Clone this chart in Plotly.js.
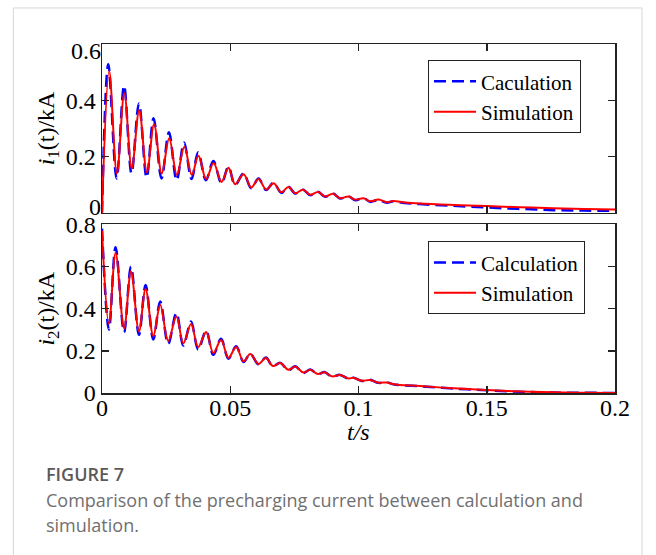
<!DOCTYPE html>
<html><head><meta charset="utf-8">
<script src="https://cdn.plot.ly/plotly-3.0.1.min.js"></script>
<style>html,body{margin:0;padding:0;background:#fff;overflow:hidden;} #chart{width:656px;height:555px;}</style>
</head><body><div id="chart"></div>
<script>
// ---- data (t in s, current in kA) ----
const t1Calc = [0, 0.00245, 0.0057, 0.0086, 0.0115, 0.0144, 0.0174, 0.0201, 0.0232, 0.0261, 0.0291, 0.032, 0.0349, 0.0375, 0.0405, 0.0434, 0.0466, 0.0493, 0.0519, 0.0552, 0.0582, 0.061, 0.064, 0.0669, 0.0699, 0.0727, 0.0753, 0.0783, 0.0812, 0.0842, 0.087, 0.09, 0.0928, 0.0961, 0.0987, 0.102, 0.1045, 0.1078, 0.111, 0.1136, 0.118, 0.124, 0.137, 0.15, 0.163, 0.176, 0.188, 0.2];
const i1Calc = [0, 0.528, 0.122, 0.452, 0.14, 0.389, 0.125, 0.336, 0.122, 0.286, 0.116, 0.25, 0.12, 0.215, 0.116, 0.184, 0.105, 0.164, 0.099, 0.14, 0.087, 0.122, 0.081, 0.107, 0.071, 0.093, 0.069, 0.083, 0.063, 0.075, 0.057, 0.069, 0.051, 0.059, 0.045, 0.053, 0.039, 0.046, 0.036, 0.041, 0.035, 0.031, 0.025, 0.019, 0.014, 0.0096, 0.008, 0.007];
const t1Sim = [0, 0.0028, 0.0058, 0.0087, 0.0116, 0.0145, 0.0175, 0.0203, 0.0233, 0.0262, 0.0292, 0.0321, 0.035, 0.0376, 0.0406, 0.0435, 0.0466, 0.0493, 0.0519, 0.0552, 0.0582, 0.061, 0.064, 0.0669, 0.0699, 0.0727, 0.0753, 0.0783, 0.0812, 0.0842, 0.087, 0.09, 0.0928, 0.0961, 0.0987, 0.102, 0.1045, 0.1078, 0.111, 0.1136, 0.118, 0.124, 0.137, 0.15, 0.163, 0.176, 0.188, 0.2];
const i1Sim = [0, 0.504, 0.14, 0.425, 0.158, 0.365, 0.144, 0.315, 0.14, 0.265, 0.135, 0.235, 0.135, 0.203, 0.12, 0.177, 0.11, 0.16, 0.102, 0.137, 0.09, 0.12, 0.083, 0.105, 0.073, 0.092, 0.07, 0.082, 0.064, 0.074, 0.058, 0.068, 0.052, 0.058, 0.047, 0.052, 0.041, 0.047, 0.038, 0.042, 0.037, 0.033, 0.028, 0.024, 0.02, 0.016, 0.014, 0.012];

const t2Calc = [0, 0.0027, 0.0053, 0.0086, 0.0113, 0.0144, 0.017, 0.02, 0.0227, 0.0258, 0.029, 0.0317, 0.0347, 0.0375, 0.0406, 0.0434, 0.0464, 0.0493, 0.0523, 0.0552, 0.0578, 0.061, 0.0639, 0.0666, 0.0695, 0.0727, 0.0753, 0.0785, 0.0812, 0.0842, 0.0867, 0.0896, 0.0928, 0.0961, 0.098, 0.1013, 0.1045, 0.1078, 0.111, 0.1136, 0.124, 0.137, 0.15, 0.163, 0.176, 0.188, 0.2];
const i2Calc = [0.78, 0.301, 0.692, 0.288, 0.6, 0.276, 0.513, 0.254, 0.434, 0.233, 0.38, 0.225, 0.339, 0.206, 0.296, 0.181, 0.257, 0.163, 0.222, 0.147, 0.187, 0.136, 0.168, 0.127, 0.143, 0.108, 0.127, 0.095, 0.111, 0.089, 0.1, 0.078, 0.086, 0.068, 0.073, 0.057, 0.063, 0.048, 0.051, 0.041, 0.032, 0.021, 0.013, 0.006, 0.002, 0.001, 0];
const t2Sim = t2Calc;
const i2Sim = [0.77, 0.328, 0.665, 0.307, 0.577, 0.293, 0.494, 0.27, 0.418, 0.247, 0.364, 0.236, 0.328, 0.218, 0.29, 0.19, 0.252, 0.167, 0.218, 0.15, 0.185, 0.138, 0.166, 0.128, 0.142, 0.11, 0.126, 0.097, 0.11, 0.09, 0.099, 0.079, 0.085, 0.069, 0.072, 0.058, 0.062, 0.049, 0.05, 0.042, 0.033, 0.022, 0.014, 0.007, 0.003, 0.001, 0];

const xTickVals = [0, 0.05, 0.1, 0.15, 0.2];
const xTickText = ['0', '0.05', '0.1', '0.15', '0.2'];
const y1TickVals = [0, 0.2, 0.4, 0.6];
const y1TickText = ['0', '0.2', '0.4', '0.6'];
const y2TickVals = [0, 0.2, 0.4, 0.6, 0.8];
const y2TickText = ['0', '0.2', '0.4', '0.6', '0.8'];
const legendTop = ['Caculation', 'Simulation'];
const legendBottom = ['Calculation', 'Simulation'];

// ---- styling ----
const SERIF = 'Liberation Serif';
const SANS = 'Open Sans';
const FS = 24;
const INK = '#000';
const blueLine = {color: '#0000ff', width: 2.5, dash: '12px,6px', shape: 'spline', smoothing: 1};
const redLine = {color: '#ff0000', width: 2, shape: 'spline', smoothing: 1};

const traces = [
  {x: t1Calc, y: i1Calc, xaxis: 'x', yaxis: 'y', mode: 'lines', line: blueLine, name: legendTop[0], legend: 'legend'},
  {x: t1Sim, y: i1Sim, xaxis: 'x', yaxis: 'y', mode: 'lines', line: redLine, name: legendTop[1], legend: 'legend'},
  {x: t2Calc, y: i2Calc, xaxis: 'x2', yaxis: 'y2', mode: 'lines', line: blueLine, name: legendBottom[0], legend: 'legend2'},
  {x: t2Sim, y: i2Sim, xaxis: 'x2', yaxis: 'y2', mode: 'lines', line: redLine, name: legendBottom[1], legend: 'legend2'},
  // carriers (nothing drawn) so the label-only overlay axes of the upper panel exist
  {x: t1Sim, y: i1Sim, xaxis: 'x', yaxis: 'y3', mode: 'none', showlegend: false, hoverinfo: 'skip'},
  {x: t1Sim, y: i1Sim, xaxis: 'x', yaxis: 'y4', mode: 'none', showlegend: false, hoverinfo: 'skip'}
];

const L = 101.7, R = 615, T = 44, B = 392.7;
const W = R - L, H = B - T;
const px = v => (v - L) / W;
const py = v => (B - v) / H;

function axis(extra) {
  return Object.assign({
    showline: true, linecolor: '#222', linewidth: 1.5, mirror: 'ticks',
    ticks: 'inside', ticklen: 7, tickwidth: 1.5, tickcolor: '#222',
    showgrid: false, zeroline: false, fixedrange: true,
    tickfont: {family: SERIF, size: FS, color: INK}
  }, extra);
}
function labelOnlyAxis(extra) {
  return Object.assign({
    overlaying: 'y', anchor: 'x', side: 'left', range: [0, 0.6],
    showline: false, ticks: '', showgrid: false, zeroline: false, fixedrange: true,
    tickfont: {family: SERIF, size: FS, color: INK}
  }, extra);
}
function legendBox(extra) {
  return Object.assign({
    xanchor: 'left', yanchor: 'top', bgcolor: '#fff', bordercolor: '#222', borderwidth: 1.2,
    font: {family: SERIF, size: 21, color: INK}, tracegroupgap: 0, itemwidth: 42
  }, extra);
}

const layout = {
  width: 656, height: 555,
  font: {family: SERIF, size: FS, color: INK},
  margin: {l: L, r: 656 - R, t: T, b: 555 - B, pad: 0},
  paper_bgcolor: '#fff', plot_bgcolor: '#fff',
  showlegend: true,
  xaxis: axis({domain: [0, 1], anchor: 'y', range: [0, 0.2], tickvals: xTickVals, ticktext: xTickText, showticklabels: false}),
  yaxis: axis({domain: [py(212.7), 1], anchor: 'x', range: [0, 0.6], tickvals: y1TickVals.slice(1, 3), ticktext: y1TickText.slice(1, 3),
    title: {text: '<i>i</i><sub>1</sub>(t)/kA', font: {family: SERIF, size: FS, color: INK}, standoff: 4}}),
  // end labels of the upper panel are nudged just inside the panel, as in the reference
  yaxis3: labelOnlyAxis({tickvals: [y1TickVals[0]], ticktext: [y1TickText[0]], ticklabelshift: -6}),
  yaxis4: labelOnlyAxis({tickvals: [y1TickVals[3]], ticktext: [y1TickText[3]], ticklabelshift: 7}),
  xaxis2: axis({domain: [0, 1], anchor: 'y2', range: [0, 0.2], tickvals: xTickVals, ticktext: xTickText, ticklabelstandoff: -7}),
  yaxis2: axis({domain: [0, py(224.3)], anchor: 'x2', range: [0, 0.8], tickvals: y2TickVals, ticktext: y2TickText,
    title: {text: '<i>i</i><sub>2</sub>(t)/kA', font: {family: SERIF, size: FS, color: INK}, standoff: 4}}),
  legend: legendBox({x: px(427.7), y: py(60)}),
  legend2: legendBox({x: px(427.7), y: py(241)}),
  shapes: [
    {type: 'line', xref: 'paper', yref: 'paper', x0: px(13), x1: px(13), y0: py(8), y1: py(560), line: {color: '#d6d6d6', width: 1}, layer: 'below'},
    {type: 'line', xref: 'paper', yref: 'paper', x0: px(642), x1: px(642), y0: py(8), y1: py(560), line: {color: '#d6d6d6', width: 1}, layer: 'below'},
    {type: 'line', xref: 'paper', yref: 'paper', x0: px(13), x1: px(642), y0: py(8), y1: py(8), line: {color: '#d6d6d6', width: 1}, layer: 'below'}
  ],
  annotations: [
    {text: '<i>t/s</i>', xref: 'paper', yref: 'paper', x: px(358), y: py(432), xanchor: 'center', yanchor: 'middle', showarrow: false,
      font: {family: SERIF, size: FS, color: INK}},
    {text: 'FIGURE 7', xref: 'paper', yref: 'paper', x: px(44), y: py(474), xanchor: 'left', yanchor: 'middle', showarrow: false,
      font: {family: SANS, size: 18, color: '#5a5a5a', weight: 600}},
    {text: 'Comparison of the precharging current between calculation and', xref: 'paper', yref: 'paper', x: px(44), y: py(500), xanchor: 'left', yanchor: 'middle', showarrow: false,
      font: {family: SANS, size: 18, color: '#707070'}},
    {text: 'simulation.', xref: 'paper', yref: 'paper', x: px(44), y: py(525), xanchor: 'left', yanchor: 'middle', showarrow: false,
      font: {family: SANS, size: 18, color: '#707070'}}
  ]
};

Plotly.newPlot('chart', traces, layout, {displayModeBar: false, staticPlot: true});
</script></body></html>
